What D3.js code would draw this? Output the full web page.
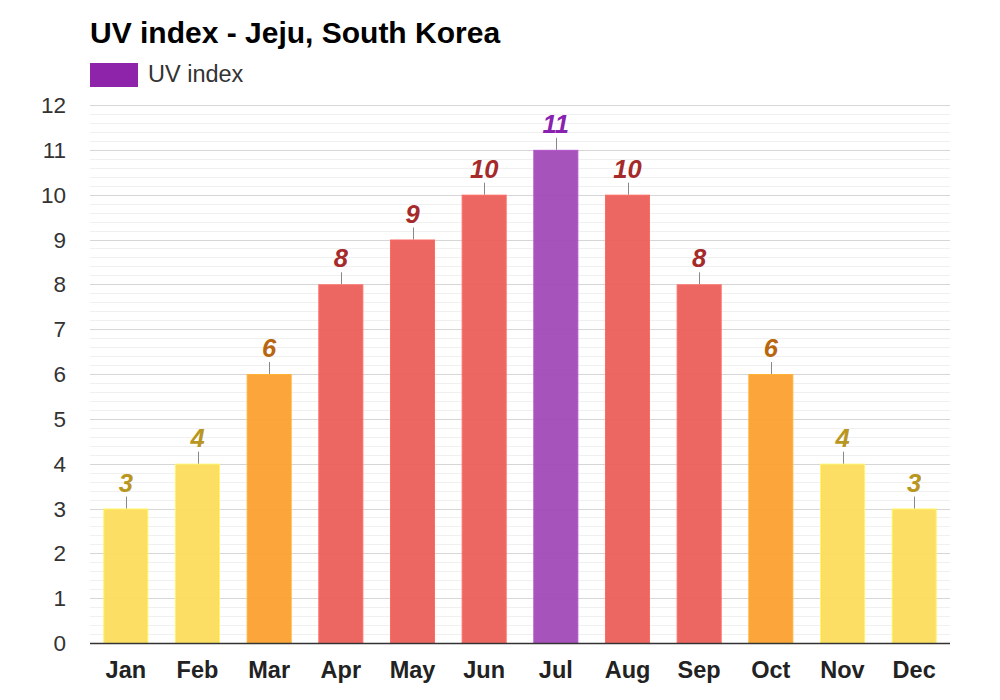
<!DOCTYPE html>
<html lang="en">
<head>
  <meta charset="UTF-8">
  <title>UV index - Jeju, South Korea</title>
  <script src="https://d3js.org/d3.v7.min.js"></script>
  <style>
    body { margin: 0; background: #fff; font-family: "Liberation Sans", Arial, sans-serif; }
  </style>
</head>
<body>
  <div id="chart"></div>
  <script>
    // data
    const months = ["Jan", "Feb", "Mar", "Apr", "May", "Jun", "Jul", "Aug", "Sep", "Oct", "Nov", "Dec"];
    const uvIndex = [3, 4, 6, 8, 9, 10, 11, 10, 8, 6, 4, 3];
    const yTicks = [0, 1, 2, 3, 4, 5, 6, 7, 8, 9, 10, 11, 12];

    const width = 1000, height = 700;
    const margin = { top: 105, right: 50, bottom: 57, left: 90 };

    // bar fill / label colour by UV level
    function barColor(v) {
      if (v <= 5) return "#fddc5c";
      if (v <= 7) return "#fba030";
      if (v <= 10) return "#ec5f5a";
      return "#a24ab8";
    }
    function labelColor(v) {
      if (v <= 5) return "#b8961f";
      if (v <= 7) return "#b8660f";
      if (v <= 10) return "#a52a2a";
      return "#8a22b0";
    }

    const svg = d3.select("#chart").append("svg")
      .attr("width", width)
      .attr("height", height);

    const x = d3.scaleBand()
      .domain(months)
      .range([margin.left, width - margin.right])
      .paddingInner(0.372)
      .paddingOuter(0.186);

    const y = d3.scaleLinear()
      .domain([0, 12])
      .range([height - margin.bottom, margin.top]);

    // minor grid lines
    const minor = d3.range(0, 12.001, 0.2).filter(v => Math.abs(v - Math.round(v)) > 0.01);
    svg.append("g").selectAll("line")
      .data(minor)
      .enter().append("line")
      .attr("x1", margin.left).attr("x2", width - margin.right)
      .attr("y1", d => Math.round(y(d)) + 0.5).attr("y2", d => Math.round(y(d)) + 0.5)
      .attr("stroke", "#f0f0f0");

    // major grid lines
    svg.append("g").selectAll("line")
      .data(yTicks)
      .enter().append("line")
      .attr("x1", margin.left).attr("x2", width - margin.right)
      .attr("y1", d => Math.round(y(d)) + 0.5).attr("y2", d => Math.round(y(d)) + 0.5)
      .attr("stroke", "#d6d6d6");

    // y tick labels
    svg.append("g").selectAll("text")
      .data(yTicks)
      .enter().append("text")
      .attr("x", 66)
      .attr("y", d => y(d) + 8)
      .attr("text-anchor", "end")
      .attr("font-size", 22.5)
      .attr("fill", "#333")
      .text(d => d);

    // bars
    svg.append("g").selectAll("rect")
      .data(uvIndex)
      .enter().append("rect")
      .attr("x", (d, i) => x(months[i]) + 0.5)
      .attr("y", d => y(d) + 0.5)
      .attr("width", x.bandwidth() - 1)
      .attr("height", d => y(0) - y(d) - 0.5)
      .attr("fill", d => barColor(d))
      .attr("fill-opacity", 0.95)
      .attr("stroke", d => d3.color(barColor(d)).brighter(0.3))
      .attr("stroke-width", 1);

    // leader lines
    svg.append("g").selectAll("line")
      .data(uvIndex)
      .enter().append("line")
      .attr("x1", (d, i) => Math.round(x(months[i]) + x.bandwidth() / 2) + 0.5)
      .attr("x2", (d, i) => Math.round(x(months[i]) + x.bandwidth() / 2) + 0.5)
      .attr("y1", d => y(d) - 12)
      .attr("y2", d => y(d))
      .attr("stroke", "#888");

    // value labels
    svg.append("g").selectAll("text")
      .data(uvIndex)
      .enter().append("text")
      .attr("x", (d, i) => x(months[i]) + x.bandwidth() / 2)
      .attr("y", d => y(d) - 17)
      .attr("text-anchor", "middle")
      .attr("font-size", 25.5)
      .attr("font-weight", "bold")
      .attr("font-style", "italic")
      .attr("fill", d => labelColor(d))
      .text(d => d);

    // x axis line
    svg.append("line")
      .attr("x1", margin.left).attr("x2", width - margin.right)
      .attr("y1", y(0) + 0.5).attr("y2", y(0) + 0.5)
      .attr("stroke", "#333").attr("stroke-width", 1.5);

    // x labels
    svg.append("g").selectAll("text")
      .data(months)
      .enter().append("text")
      .attr("x", d => x(d) + x.bandwidth() / 2)
      .attr("y", 678)
      .attr("text-anchor", "middle")
      .attr("font-size", 23.5)
      .attr("font-weight", "bold")
      .attr("fill", "#222")
      .text(d => d);

    // title
    svg.append("text")
      .attr("x", 90).attr("y", 43)
      .attr("font-size", 30)
      .attr("font-weight", "bold")
      .attr("fill", "#000")
      .text("UV index - Jeju, South Korea");

    // legend
    svg.append("rect")
      .attr("x", 90).attr("y", 63)
      .attr("width", 48).attr("height", 24)
      .attr("fill", "#8e24aa");
    svg.append("text")
      .attr("x", 148).attr("y", 82)
      .attr("font-size", 23.5)
      .attr("fill", "#333")
      .text("UV index");
  </script>
</body>
</html>
